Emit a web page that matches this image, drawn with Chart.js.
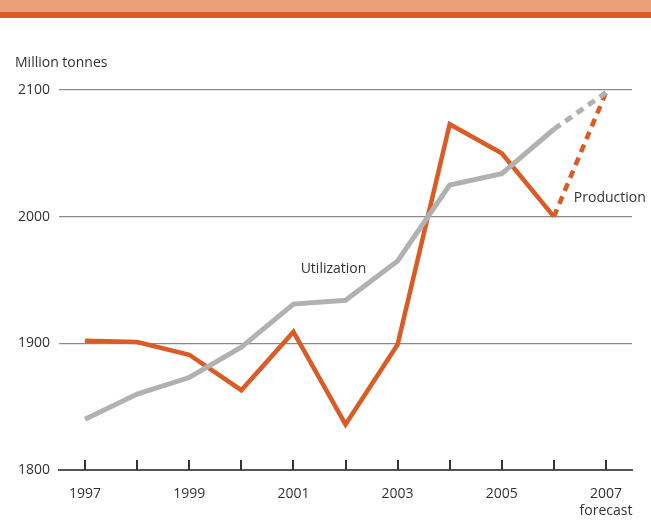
<!DOCTYPE html>
<html>
<head>
<meta charset="utf-8">
<script src="https://cdn.jsdelivr.net/npm/chart.js@4.4.0/dist/chart.umd.min.js"></script>
<style>
  html, body { margin: 0; padding: 0; background: #fff; }
  #wrap { position: relative; width: 651px; height: 527px; overflow: hidden; font-family: "Open Sans", sans-serif; }
  #banner { position: absolute; left: 0; top: 0; width: 651px; height: 12px; background: #eca07a; }
  #bar { position: absolute; left: 0; top: 12px; width: 651px; height: 6px; background: #dc5a24; }
  #unit { position: absolute; left: 15px; top: 52px; font-size: 14px; color: #333; }
  canvas { position: absolute; left: 0; top: 0; }
</style>
</head>
<body>
<div id="wrap">
  <canvas id="chart" width="651" height="527"></canvas>
  <div id="banner"></div>
  <div id="bar"></div>
  <div id="unit">Million tonnes</div>
</div>
<script>
const years = ['1997', '1998', '1999', '2000', '2001', '2002', '2003', '2004', '2005', '2006', '2007'];
const production = [1902, 1901, 1891, 1863, 1909, 1836, 1899, 2073, 2050, 2000, 2098];
const utilization = [1840, 1860, 1873, 1897, 1931, 1934, 1965, 2025, 2034, 2069, 2098];
const yTicks = [1800, 1900, 2000, 2100];

const ORANGE = '#dc5a24';
const GREY = '#b1b1b3';
const FONT = { family: '"Open Sans", sans-serif', size: 14 };

const forecastDash = ctx => ctx.p0DataIndex === years.length - 2 ? [8, 6] : undefined;

// small tick marks pointing up from the baseline, plus in-chart series labels
const decorations = {
  id: 'decorations',
  afterDatasetsDraw(chart) {
    const { ctx, scales: { x, y } } = chart;
    const base = y.getPixelForValue(yTicks[0]);
    ctx.save();
    ctx.strokeStyle = '#333';
    ctx.lineWidth = 2;
    years.forEach((_, i) => {
      const px = Math.round(x.getPixelForValue(i));
      ctx.beginPath();
      ctx.moveTo(px, base);
      ctx.lineTo(px, base - 10);
      ctx.stroke();
    });
    ctx.fillStyle = '#333';
    ctx.font = '14px "Open Sans", sans-serif';
    ctx.textBaseline = 'middle';
    ctx.textAlign = 'center';
    ctx.fillText('Utilization', x.getPixelForValue(5) - 12, y.getPixelForValue(1959));
    ctx.textAlign = 'left';
    ctx.fillText('Production', x.getPixelForValue(9) + 20, y.getPixelForValue(2015));
    ctx.restore();
  }
};

new Chart(document.getElementById('chart'), {
  type: 'line',
  data: {
    labels: years,
    datasets: [{
      label: 'Utilization',
      data: utilization,
      borderColor: GREY,
      borderWidth: 5,
      pointRadius: 0,
      tension: 0,
      segment: { borderDash: forecastDash }
    }, {
      label: 'Production',
      data: production,
      borderColor: ORANGE,
      borderWidth: 4.5,
      pointRadius: 0,
      tension: 0,
      segment: { borderDash: forecastDash }
    }]
  },
  options: {
    responsive: false,
    animation: false,
    layout: { padding: { top: 90, right: 19, left: 0, bottom: 0 } },
    plugins: { legend: { display: false }, tooltip: { enabled: false } },
    scales: {
      x: {
        offset: true,
        grid: { display: false },
        border: { display: true, color: '#555', width: 2 },
        afterFit: s => { s.height = 57; },
        ticks: {
          color: '#333',
          font: FONT,
          padding: 8,
          maxRotation: 0,
          autoSkip: false,
          callback: (v, i) => {
            if (i % 2) return '';
            return i === years.length - 1 ? [years[i], 'forecast'] : years[i];
          }
        }
      },
      y: {
        min: 1800,
        max: 2100,
        afterFit: s => { s.width = 59; },
        border: { display: false },
        grid: {
          color: c => c.tick.value === 1800 ? 'rgba(0,0,0,0)' : '#8a8a8a',
          lineWidth: 1.2,
          drawTicks: false
        },
        afterBuildTicks: s => { s.ticks = yTicks.map(v => ({ value: v })); },
        ticks: { color: '#333', font: FONT, padding: 9, callback: v => String(v) }
      }
    }
  },
  plugins: [decorations]
});
</script>
</body>
</html>
